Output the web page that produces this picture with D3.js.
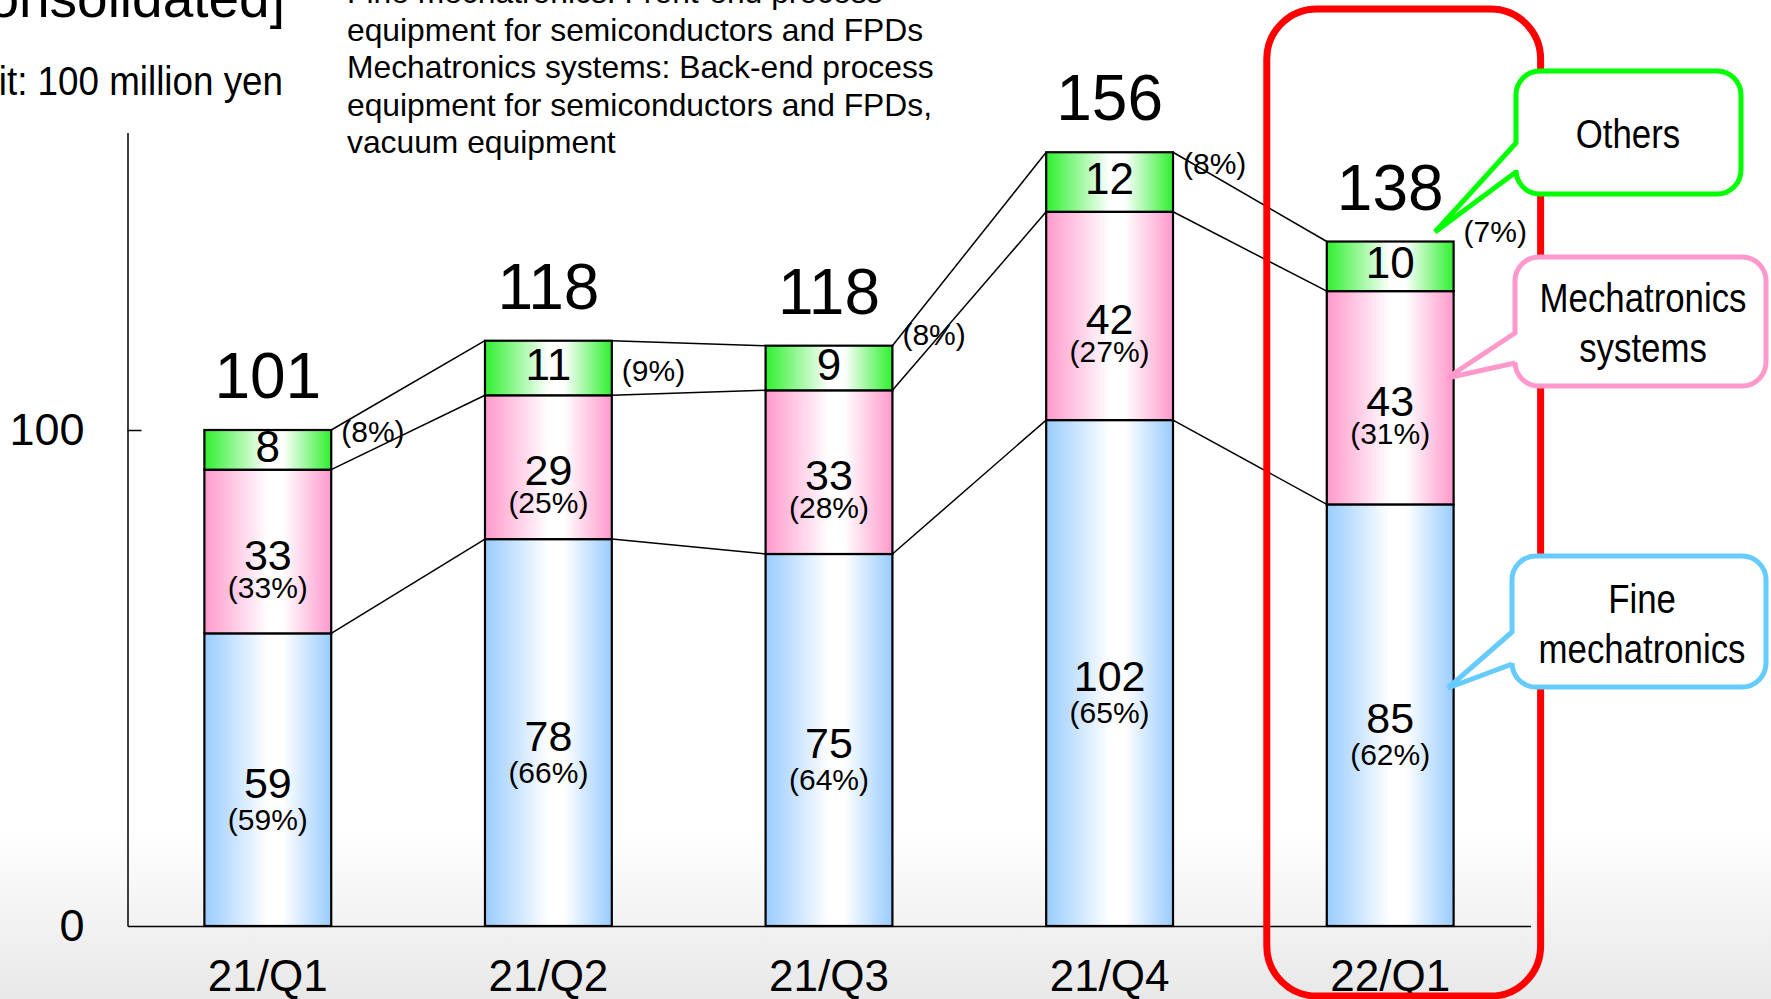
<!DOCTYPE html>
<html>
<head>
<meta charset="utf-8">
<script src="https://cdn.jsdelivr.net/npm/d3@7"></script>
<style>
  html, body { margin: 0; padding: 0; background: #fff; }
  svg { display: block; }
  text { font-family: "Liberation Sans", Arial, sans-serif; fill: #000; }
</style>
</head>
<body>
<svg id="chart" width="1771" height="999"></svg>
<script>
// Quarterly net sales by segment (unit: 100 million yen)
const categories = ["21/Q1", "21/Q2", "21/Q3", "21/Q4", "22/Q1"];
const fineMechatronics = [59, 78, 75, 102, 85];
const mechatronicsSystems = [33, 29, 33, 42, 43];
const others = [8, 11, 9, 12, 10];
const totals = [101, 118, 118, 156, 138];
const finePct = [59, 66, 64, 65, 62];
const systemsPct = [33, 25, 28, 27, 31];
const othersPct = [8, 9, 8, 8, 7];
const yTicks = [0, 100];

const descLines = [
  "Fine mechatronics: Front-end process",
  "equipment for semiconductors and FPDs",
  "Mechatronics systems: Back-end process",
  "equipment for semiconductors and FPDs,",
  "vacuum equipment"
];

// vertical nudges for the "Others" share labels beside each bar
const othersPctNudge = [2, 30, -11, 12, -10];

const keys = ["fine", "systems", "others"];
const rows = categories.map((c, i) => ({
  cat: c, fine: fineMechatronics[i], systems: mechatronicsSystems[i], others: others[i]
}));
const stacked = d3.stack().keys(keys)(rows);

const svg = d3.select("#chart");
const defs = svg.append("defs");

// slide background: white fading to light grey at the bottom
const bg = defs.append("linearGradient").attr("id", "bgGrad")
  .attr("x1", 0).attr("y1", 0).attr("x2", 0).attr("y2", 1);
bg.append("stop").attr("offset", 0.83).attr("stop-color", "#ffffff");
bg.append("stop").attr("offset", 1).attr("stop-color", "#e8e8e8");
svg.append("rect").attr("width", 1771).attr("height", 999).attr("fill", "url(#bgGrad)");

// horizontal shaded fills for the bar segments
const segColors = { fine: "#99ccff", systems: "#ff99cc", others: "#2ff02f" };
keys.forEach(k => {
  const g = defs.append("linearGradient").attr("id", "grad-" + k)
    .attr("x1", 0).attr("y1", 0).attr("x2", 1).attr("y2", 0);
  g.append("stop").attr("offset", 0).attr("stop-color", segColors[k]);
  g.append("stop").attr("offset", 0.5).attr("stop-color", "#ffffff");
  g.append("stop").attr("offset", 0.62).attr("stop-color", "#ffffff");
  g.append("stop").attr("offset", 1).attr("stop-color", segColors[k]);
});

const x = d3.scaleBand().domain(categories)
  .range([127.5, 1530.5]).paddingInner(0.548).paddingOuter(0.274);
const y = d3.scaleLinear().domain([0, 160]).range([926, 132.4]);
const bw = x.bandwidth();

// header texts
svg.append("text").attr("x", 285).attr("y", 17).attr("text-anchor", "end")
  .style("font-size", "55px").text("[Consolidated]");
svg.append("text").attr("transform", "translate(283,95) scale(0.92,1)").attr("text-anchor", "end")
  .style("font-size", "40px").text("Unit: 100 million yen");
svg.append("g").selectAll("text").data(descLines).join("text")
  .attr("x", 347).attr("y", (d, i) => 3 + i * 37.6)
  .style("font-size", "31.8px").text(d => d);

// axes
const yAxis = svg.append("g").attr("transform", "translate(127.5,0)")
  .call(d3.axisLeft(y).tickValues(yTicks).tickSize(-14).tickSizeOuter(0).tickPadding(43).tickFormat(d3.format("d")));
yAxis.selectAll(".tick line").attr("stroke", "#000").attr("stroke-width", 1.5)
  .attr("display", d => d === 0 ? "none" : null);
yAxis.select(".domain").attr("stroke", "#000").attr("stroke-width", 1.5);
yAxis.selectAll("text").style("font-size", "45px").style("font-family", "'Liberation Sans', Arial, sans-serif");

const xAxis = svg.append("g").attr("transform", "translate(0,926)")
  .call(d3.axisBottom(x).tickSize(0).tickSizeOuter(0).tickPadding(34));
xAxis.select(".domain").attr("stroke", "#000").attr("stroke-width", 1.5);
xAxis.selectAll("text").style("font-size", "44px").style("font-family", "'Liberation Sans', Arial, sans-serif");

// connector lines between neighbouring bars at each segment boundary
const connectors = [];
stacked.forEach(layer => {
  for (let i = 0; i < categories.length - 1; i++) {
    connectors.push({
      x1: x(categories[i]) + bw, y1: y(layer[i][1]),
      x2: x(categories[i + 1]), y2: y(layer[i + 1][1])
    });
  }
});
svg.append("g").selectAll("line").data(connectors).join("line")
  .attr("x1", d => d.x1).attr("y1", d => d.y1)
  .attr("x2", d => d.x2).attr("y2", d => d.y2)
  .attr("stroke", "#000").attr("stroke-width", 1.5);

// stacked bars
const layers = svg.append("g").selectAll("g").data(stacked).join("g")
  .attr("fill", d => "url(#grad-" + d.key + ")");
layers.selectAll("rect").data(d => d).join("rect")
  .attr("x", d => x(d.data.cat))
  .attr("y", d => y(d[1]))
  .attr("width", bw)
  .attr("height", d => y(d[0]) - y(d[1]))
  .attr("stroke", "#000").attr("stroke-width", 2.2);

// segment value labels
const pctByKey = { fine: finePct, systems: systemsPct, others: othersPct };
const pctGap = { fine: 32, systems: 28 };
const labels = svg.append("g");
stacked.forEach(layer => {
  layer.forEach((d, i) => {
    const cx = x(d.data.cat) + bw / 2;
    const mid = (y(d[0]) + y(d[1])) / 2;
    const v = d[1] - d[0];
    if (layer.key === "others") {
      labels.append("text").attr("x", cx).attr("y", mid + 12).attr("text-anchor", "middle")
        .style("font-size", "44px").text(v);
      labels.append("text").attr("x", x(d.data.cat) + bw + 10)
        .attr("y", y(d[1]) + othersPctNudge[i] + 10)
        .style("font-size", "30px").text("(" + othersPct[i] + "%)");
    } else {
      const base = mid + 18;
      labels.append("text").attr("x", cx).attr("y", base).attr("text-anchor", "middle")
        .style("font-size", "43px").text(v);
      labels.append("text").attr("x", cx).attr("y", base + pctGap[layer.key]).attr("text-anchor", "middle")
        .style("font-size", "30px").text("(" + pctByKey[layer.key][i] + "%)");
    }
  });
});

// totals above bars
const topLayer = stacked[stacked.length - 1];
svg.append("g").selectAll("text").data(topLayer).join("text")
  .attr("x", d => x(d.data.cat) + bw / 2)
  .attr("y", d => y(d[1]) - 32)
  .attr("text-anchor", "middle")
  .style("font-size", "64px")
  .text((d, i) => totals[i]);

// highlight frame around the latest quarter
svg.append("rect")
  .attr("x", x("22/Q1") - 60).attr("y", 9)
  .attr("width", bw + 147).attr("height", 987)
  .attr("rx", 50).attr("ry", 50)
  .attr("fill", "none").attr("stroke", "#ff0000").attr("stroke-width", 7);

// callout boxes naming each segment
function calloutPath(x0, y0, x1, y1, r, ya, yb, tx, ty) {
  return [
    "M", x0 + r, y0, "L", x1 - r, y0, "A", r, r, 0, 0, 1, x1, y0 + r,
    "L", x1, y1 - r, "A", r, r, 0, 0, 1, x1 - r, y1,
    "L", x0 + r, y1, "A", r, r, 0, 0, 1, x0, y1 - r,
    "L", x0, yb, "L", tx, ty, "L", x0, ya,
    "L", x0, y0 + r, "A", r, r, 0, 0, 1, x0 + r, y0, "Z"
  ].join(" ");
}
const callouts = [
  { color: "#00ff00", box: [1516, 71, 1741, 194], ptr: [143, 172, 1435, 232], lines: ["Others"], cx: 1628, base: [148] },
  { color: "#ff99cc", box: [1515, 257, 1766, 386], ptr: [333, 363, 1447, 378], lines: ["Mechatronics", "systems"], cx: 1643, base: [312, 362] },
  { color: "#66ccff", box: [1512, 556, 1766, 687], ptr: [632, 664, 1448, 688], lines: ["Fine", "mechatronics"], cx: 1642, base: [613, 663] }
];
const cg = svg.append("g");
callouts.forEach(c => {
  const [x0, y0, x1, y1] = c.box;
  const [ya, yb, tx, ty] = c.ptr;
  cg.append("path").attr("d", calloutPath(x0, y0, x1, y1, 24, ya, yb, tx, ty))
    .attr("fill", "#fff").attr("stroke", c.color).attr("stroke-width", 5)
    .attr("stroke-linejoin", "miter");
  c.lines.forEach((t, j) => {
    cg.append("text")
      .attr("transform", "translate(" + c.cx + "," + c.base[j] + ") scale(0.87,1)")
      .attr("text-anchor", "middle").style("font-size", "40px").text(t);
  });
});
</script>
</body>
</html>
